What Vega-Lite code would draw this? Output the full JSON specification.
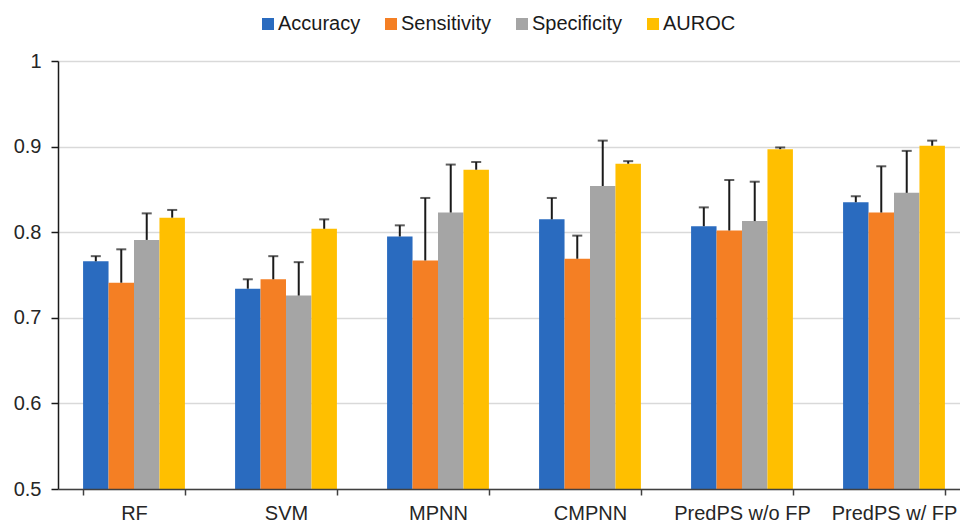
{
  "$schema": "https://vega.github.io/schema/vega-lite/v6.json",
  "autosize": {"type": "none"},
  "width": 902,
  "height": 428,
  "padding": {"left": 58, "top": 61, "right": 0, "bottom": 33},
  "background": "white",
  "config": {
    "font": "Liberation Sans",
    "view": {"stroke": null},
    "axis": {"labelFont": "Liberation Sans", "labelColor": "#262626", "labelFontSize": 20}
  },
  "data": {
    "values": [
      {"model": "RF", "metric": "Accuracy", "value": 0.766, "upper": 0.772},
      {"model": "RF", "metric": "Sensitivity", "value": 0.741, "upper": 0.780},
      {"model": "RF", "metric": "Specificity", "value": 0.791, "upper": 0.822},
      {"model": "RF", "metric": "AUROC", "value": 0.817, "upper": 0.826},
      {"model": "SVM", "metric": "Accuracy", "value": 0.734, "upper": 0.745},
      {"model": "SVM", "metric": "Sensitivity", "value": 0.745, "upper": 0.772},
      {"model": "SVM", "metric": "Specificity", "value": 0.726, "upper": 0.765},
      {"model": "SVM", "metric": "AUROC", "value": 0.804, "upper": 0.815},
      {"model": "MPNN", "metric": "Accuracy", "value": 0.795, "upper": 0.808},
      {"model": "MPNN", "metric": "Sensitivity", "value": 0.767, "upper": 0.840},
      {"model": "MPNN", "metric": "Specificity", "value": 0.823, "upper": 0.879},
      {"model": "MPNN", "metric": "AUROC", "value": 0.873, "upper": 0.882},
      {"model": "CMPNN", "metric": "Accuracy", "value": 0.815, "upper": 0.840},
      {"model": "CMPNN", "metric": "Sensitivity", "value": 0.769, "upper": 0.796},
      {"model": "CMPNN", "metric": "Specificity", "value": 0.854, "upper": 0.907},
      {"model": "CMPNN", "metric": "AUROC", "value": 0.880, "upper": 0.883},
      {"model": "PredPS w/o FP", "metric": "Accuracy", "value": 0.807, "upper": 0.829},
      {"model": "PredPS w/o FP", "metric": "Sensitivity", "value": 0.802, "upper": 0.861},
      {"model": "PredPS w/o FP", "metric": "Specificity", "value": 0.813, "upper": 0.859},
      {"model": "PredPS w/o FP", "metric": "AUROC", "value": 0.897, "upper": 0.899},
      {"model": "PredPS w/ FP", "metric": "Accuracy", "value": 0.835, "upper": 0.842},
      {"model": "PredPS w/ FP", "metric": "Sensitivity", "value": 0.823, "upper": 0.877},
      {"model": "PredPS w/ FP", "metric": "Specificity", "value": 0.846, "upper": 0.895},
      {"model": "PredPS w/ FP", "metric": "AUROC", "value": 0.901, "upper": 0.907}
    ]
  },
  "encoding": {
    "x": {
      "field": "model", "type": "nominal", "sort": null,
      "scale": {"paddingInner": 0.33, "paddingOuter": 0.165, "range": [0, 912]},
      "axis": {
        "title": null, "labelAngle": 0, "domainColor": "#404040", "domainWidth": 1.5,
        "tickColor": "#404040", "tickWidth": 1.5, "tickSize": 6, "tickBand": "extent",
        "labelPadding": 8, "grid": false, "zindex": 1
      }
    },
    "xOffset": {"field": "metric", "type": "nominal", "sort": ["Accuracy", "Sensitivity", "Specificity", "AUROC"]}
  },
  "layer": [
    {
      "mark": {"type": "bar"},
      "encoding": {
        "y": {
          "field": "value", "type": "quantitative",
          "scale": {"domain": [0.5, 1], "zero": false, "nice": false},
          "axis": {
            "title": null, "values": [0.5, 0.6, 0.7, 0.8, 0.9, 1], "format": ".1~f",
            "domainColor": "#1a1a1a", "domainWidth": 1.5, "tickColor": "#1a1a1a", "tickWidth": 1.5,
            "tickSize": 7, "labelPadding": 10, "grid": true, "gridColor": "#d9d9d9", "gridWidth": 1.5
          }
        },
        "y2": {"datum": 0.5},
        "color": {
          "field": "metric", "type": "nominal",
          "sort": ["Accuracy", "Sensitivity", "Specificity", "AUROC"],
          "scale": {"domain": ["Accuracy", "Sensitivity", "Specificity", "AUROC"], "range": ["#2a6bbf", "#f47f24", "#a5a5a5", "#ffbf00"]},
          "legend": {
            "title": null, "orient": "none", "direction": "horizontal",
            "legendX": 200, "legendY": -47, "padding": 0, "offset": 0,
            "symbolType": "square", "symbolSize": 144, "symbolStrokeWidth": 0,
            "labelFontSize": 20, "labelFont": "Liberation Sans", "labelColor": "#1a1a1a",
            "labelOffset": 0, "columnPadding": 20
          }
        }
      }
    },
    {
      "mark": {"type": "rule", "color": "#1a1a1a", "strokeWidth": 2},
      "encoding": {
        "y": {"field": "value", "type": "quantitative"},
        "y2": {"field": "upper"}
      }
    },
    {
      "mark": {"type": "tick", "color": "#1a1a1a", "thickness": 2, "size": 10},
      "encoding": {
        "y": {"field": "upper", "type": "quantitative"}
      }
    }
  ]
}
